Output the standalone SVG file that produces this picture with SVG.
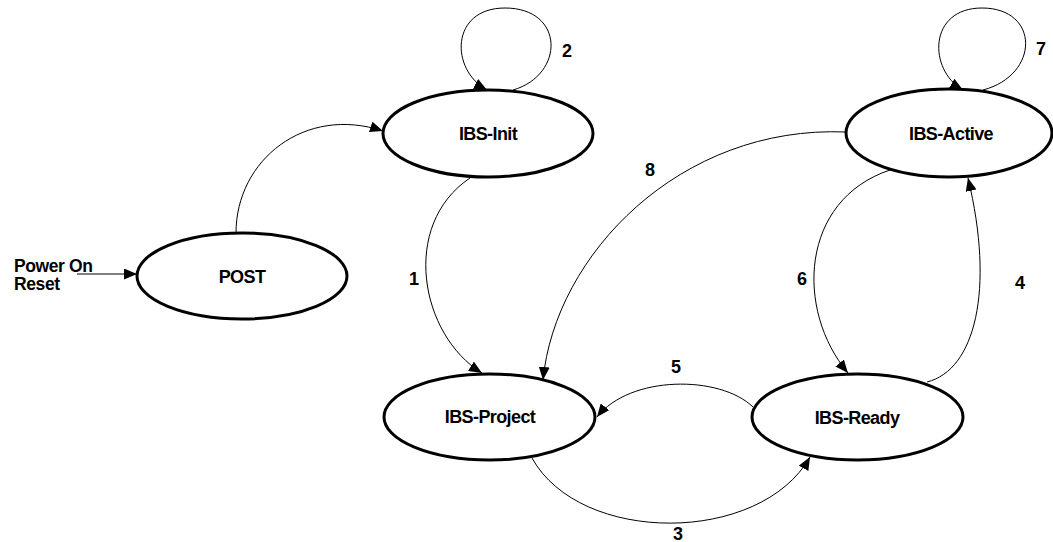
<svg xmlns="http://www.w3.org/2000/svg" width="1053" height="542" viewBox="0 0 1053 542">
  <style>
    .state { fill: #fff; stroke: #000; stroke-width: 3; }
    .name { font-family: "Liberation Sans", Arial, sans-serif; font-size: 18px; font-weight: bold; letter-spacing: -0.6px; text-anchor: middle; fill: #000; }
    .edge { fill: none; stroke: #000; stroke-width: 1; marker-end: url(#arrow); }
    .num { font-family: "Liberation Sans", Arial, sans-serif; font-size: 18px; font-weight: bold; text-anchor: middle; fill: #000; }
    .lbl { font-family: "Liberation Sans", Arial, sans-serif; font-size: 17.5px; font-weight: bold; letter-spacing: -0.4px; fill: #000; }
  </style>
  <defs>
    <marker id="arrow" viewBox="0 0 13 11" refX="13" refY="5.5" markerWidth="13" markerHeight="11" markerUnits="userSpaceOnUse" orient="auto">
      <path d="M0,0 L13,5.5 L0,11 z" fill="#000"/>
    </marker>
  </defs>
  <rect width="1053" height="542" fill="#fff"/>

  <g id="connectors">
    <!-- Power On Reset entry -->
    <path class="edge" d="M77,274 L137,274"/>
    <!-- POST -> IBS-Init -->
    <path class="edge" d="M236,233 C236,160 305,105 383,131"/>
    <!-- 2: IBS-Init self loop -->
    <path class="edge" d="M513,90 C565,75 565,8 505,8 C450,8 450,70 487,90"/>
    <!-- 1: IBS-Init -> IBS-Project -->
    <path class="edge" d="M470,178 C400,225 420,335 482,373"/>
    <!-- 8: IBS-Active -> IBS-Project -->
    <path class="edge" d="M846,132 C680,125 555,255 543,380"/>
    <!-- 7: IBS-Active self loop -->
    <path class="edge" d="M983,90 C1040,75 1040,8 982,8 C928,8 928,70 963,90"/>
    <!-- 6: IBS-Active -> IBS-Ready -->
    <path class="edge" d="M890,170 C800,200 795,310 848,373"/>
    <!-- 4: IBS-Ready -> IBS-Active -->
    <path class="edge" d="M927,382 C975,370 995,290 968,178"/>
    <!-- 5: IBS-Ready -> IBS-Project -->
    <path class="edge" d="M753,407 C720,375 630,375 597,417"/>
    <!-- 3: IBS-Project -> IBS-Ready -->
    <path class="edge" d="M532,458 C580,545 760,545 810,457"/>
  </g>

  <g id="edge-labels">
    <text class="num" x="567" y="57">2</text>
    <text class="num" x="1041" y="55">7</text>
    <text class="num" x="650" y="176">8</text>
    <text class="num" x="414" y="285">1</text>
    <text class="num" x="802" y="285">6</text>
    <text class="num" x="1020" y="289">4</text>
    <text class="num" x="676" y="373">5</text>
    <text class="num" x="678" y="540">3</text>
  </g>

  <g id="reset-label">
    <text class="lbl" x="14" y="272">Power On</text>
    <text class="lbl" x="14" y="290">Reset</text>
  </g>

  <g id="POST">
    <ellipse class="state" cx="242" cy="276" rx="105" ry="43"/>
    <text class="name" x="242" y="283">POST</text>
  </g>
  <g id="IBS-Init">
    <ellipse class="state" cx="488" cy="133.5" rx="105" ry="43.5"/>
    <text class="name" x="488" y="140">IBS-Init</text>
  </g>
  <g id="IBS-Active">
    <ellipse class="state" cx="949" cy="133" rx="103" ry="44"/>
    <text class="name" x="951" y="140">IBS-Active</text>
  </g>
  <g id="IBS-Project">
    <ellipse class="state" cx="489.5" cy="417" rx="105.5" ry="43"/>
    <text class="name" x="490" y="423">IBS-Project</text>
  </g>
  <g id="IBS-Ready">
    <ellipse class="state" cx="857.5" cy="417" rx="105.5" ry="43"/>
    <text class="name" x="857" y="424">IBS-Ready</text>
  </g>
</svg>
